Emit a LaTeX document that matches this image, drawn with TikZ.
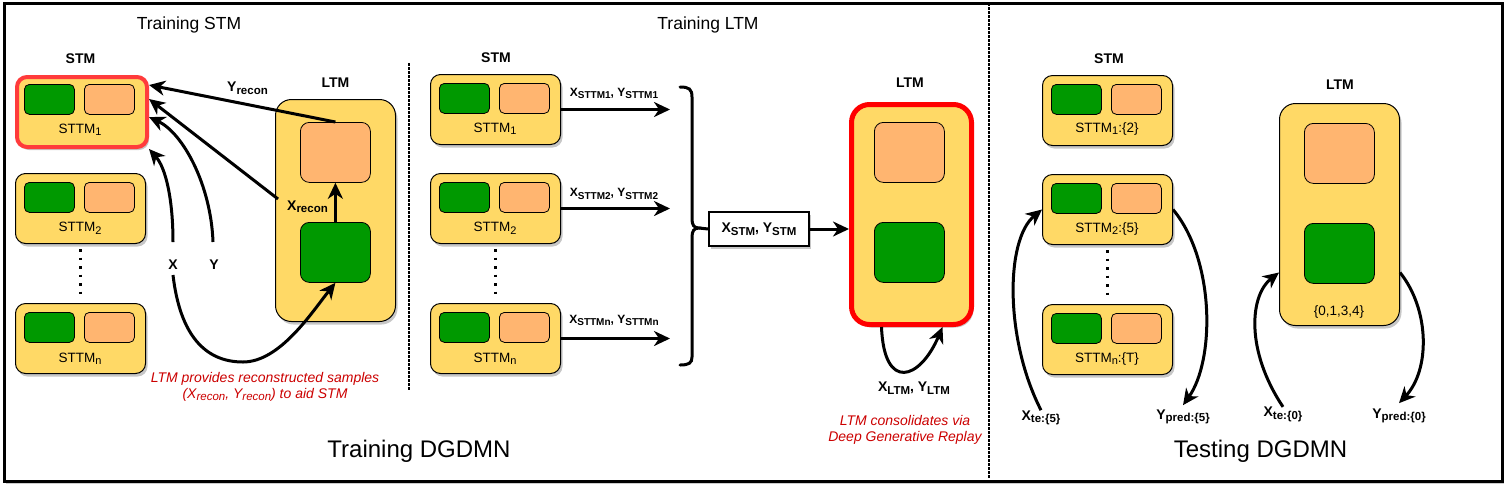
\documentclass[tikz,border=0pt]{standalone}
\usepackage{fontspec}
\setmainfont{Liberation Sans}
\usetikzlibrary{arrows.meta,shadows,calc}
\definecolor{yel}{HTML}{FFD966}
\definecolor{grn}{HTML}{009900}
\definecolor{org}{HTML}{FFB570}
\definecolor{redtxt}{HTML}{CC0000}
\definecolor{redA}{HTML}{FF3B3B}
\definecolor{redB}{HTML}{FF0000}
\newcommand{\sbs}[2][11.5]{\raisebox{-2.5pt}{\fontsize{#1pt}{#1pt}\selectfont #2}}
\begin{document}
\begin{tikzpicture}[x=1pt,y=-1pt,
 shd/.style={drop shadow={shadow xshift=2pt,shadow yshift=-3pt,opacity=0.22,fill=black}},
 sttm/.style={draw=black,line width=1pt,fill=yel,rounded corners=10pt,minimum width=130pt,minimum height=70pt,inner sep=0pt,anchor=north west,shd},
 ltmbox/.style={draw=black,line width=1pt,fill=yel,rounded corners=16pt,minimum width=120pt,minimum height=222pt,inner sep=0pt,anchor=north west,shd},
 gsm/.style={draw=black,line width=0.8pt,fill=grn,rounded corners=5pt,minimum width=50pt,minimum height=30pt,inner sep=0pt,anchor=north west},
 osm/.style={gsm,fill=org},
 gbig/.style={draw=black,line width=0.8pt,fill=grn,rounded corners=9pt,minimum width=70pt,minimum height=60pt,inner sep=0pt,anchor=north west},
 obig/.style={gbig,fill=org},
 lbl/.style={font=\fontsize{13.5pt}{16pt}\selectfont,anchor=base,inner sep=0pt},
 blbl/.style={font=\fontsize{14pt}{16pt}\selectfont\bfseries,anchor=base,inner sep=0pt},
 slbl/.style={font=\fontsize{12pt}{14pt}\selectfont\bfseries,anchor=base,inner sep=0pt},
 ttl/.style={font=\fontsize{17.5pt}{20pt}\selectfont,anchor=base,inner sep=0pt},
 bigttl/.style={font=\fontsize{24pt}{28pt}\selectfont,anchor=base,inner sep=0pt},
 rtxt/.style={font=\fontsize{14pt}{16pt}\selectfont\itshape,text=redtxt,anchor=base,inner sep=0pt},
 arr/.style={line width=3pt,-{Stealth[length=16pt,width=15pt,inset=5pt]}},
 ln/.style={line width=3pt},
 sepdots/.style={line width=2.5pt,dash pattern=on 2.5pt off 1.5pt},
 vdots/.style={line width=2.5pt,dash pattern=on 2.5pt off 6pt},
]
\useasboundingbox (0,0) rectangle (1509,491);
\node[draw=black,line width=2.5pt,minimum width=1498pt,minimum height=478pt,inner sep=0pt,anchor=north west,fill=white,drop shadow={shadow xshift=2pt,shadow yshift=-3pt,opacity=0.2,fill=black}] (frame) at (3,2) {};

% titles
\node[ttl] (t1ttl) at (189,29.3) {Training STM};
\node[ttl] (t2ttl) at (708,29.3) {Training LTM};
\node[bigttl] (t3ttl) at (419,457) {Training DGDMN};
\node[bigttl] (t4ttl) at (1260.5,457) {Testing DGDMN};

% separators
\coordinate (s1a) at (409,63); \coordinate (s1b) at (409,390);
\draw[sepdots] (s1a) -- (s1b);
\coordinate (s2a) at (989,3); \coordinate (s2b) at (989,479);
\draw[sepdots] (s2a) -- (s2b);

% ===== Training STM =====
\node[blbl] (stmA) at (80.5,63.3) {STM};
\node[sttm,draw=redA,line width=4pt] (a1) at (15,75) {};
\node[sttm] (a2) at (15,173) {};
\node[sttm] (an) at (15,303) {};
\foreach \b in {a1,a2,an}{
  \node[gsm] (\b g) at ($(\b.north west)+(9,9)$) {};
  \node[osm] (\b o) at ($(\b.north west)+(69,9)$) {};
}
\node[lbl] (a1t) at (80,133) {STTM\sbs[11]{1}};
\node[lbl] (a2t) at (80,231.5) {STTM\sbs[11]{2}};
\node[lbl] (ant) at (80,362) {STTM\sbs[11]{n}};
\draw[vdots] ([yshift=-5pt]a2.south) -- ([yshift=5pt]an.north);

\node[blbl] (ltmA) at (335.5,87.3) {LTM};
\node[ltmbox] (l1) at (275,99) {};
\node[obig] (l1o) at (300,122) {};
\node[gbig] (l1g) at (300,222) {};
\draw[arr] (l1g.north) -- (l1o.south);

\node[blbl] (yrec) at (247.5,91.7) {Y\sbs{recon}};
\node[blbl] (xrec) at (307.5,210) {X\sbs{recon}};
\node[blbl] (xlab) at (173,269) {X};
\node[blbl] (ylab) at (214,269) {Y};
\coordinate (xrs) at (278,199);
\coordinate (xa) at (173,242);
\coordinate (ya) at (213,242);
\coordinate (xb) at (173,275);

\draw[arr] (l1o.north) -- ([yshift=-10pt]a1.north east);
\draw[arr] (xrs) -- ([yshift=-24pt]a1.north east);
\draw[arr] (ya) .. controls (211,185) and (183,133) .. ([yshift=-42pt]a1.north east);
\draw[arr] (xa) .. controls (173,200) and (166,168) .. (a1.south east);
\draw[arr] (xb) .. controls (180,335) and (205,362) .. (243,362) .. controls (280,362) and (312,312) .. (l1g.south);

\node[rtxt] (r1a) at (265,382.7) {LTM provides reconstructed samples};
\node[rtxt] (r1b) at (265,398.3) {(X\sbs{recon}, Y\sbs{recon}) to aid STM};

% ===== Training LTM =====
\node[blbl] (stmB) at (496,62.3) {STM};
\node[sttm] (b1) at (430,74) {};
\node[sttm] (b2) at (430,173) {};
\node[sttm] (bn) at (430,303) {};
\foreach \b in {b1,b2,bn}{
  \node[gsm] (\b g) at ($(\b.north west)+(9,9)$) {};
  \node[osm] (\b o) at ($(\b.north west)+(69,9)$) {};
}
\node[lbl] (b1t) at (495,132) {STTM\sbs[11]{1}};
\node[lbl] (b2t) at (495,231.5) {STTM\sbs[11]{2}};
\node[lbl] (bnt) at (495,362) {STTM\sbs[11]{n}};
\draw[vdots] ([yshift=-5pt]b2.south) -- ([yshift=5pt]bn.north);

\coordinate (bx) at (670,0);
\draw[arr] (b1.east) -- (b1.east -| bx);
\draw[arr] (b2.east) -- (b2.east -| bx);
\draw[arr] (bn.east) -- (bn.east -| bx);
\node[slbl] (lb1) at (614,96) {X\sbs[10]{STTM1}, Y\sbs[10]{STTM1}};
\node[slbl] (lb2) at (614,196.7) {X\sbs[10]{STTM2}, Y\sbs[10]{STTM2}};
\node[slbl] (lbn) at (614,323.3) {X\sbs[10]{STTMn}, Y\sbs[10]{STTMn}};

\coordinate (bt) at (699,228);
\draw[ln,line cap=round] (680,87) .. controls (689,87) and (692,89) .. (692,97) -- (692,219) .. controls (692,225) and (694,228) .. (bt) .. controls (694,228) and (692,231) .. (692,237) -- (692,357) .. controls (692,363) and (689,365) .. (680,365);

\node[draw=black,line width=2pt,fill=white,minimum width=100pt,minimum height=34pt,inner sep=0pt,shd,font=\fontsize{14pt}{16pt}\selectfont\bfseries] (xstm) at (759,229) {X\sbs{STM}, Y\sbs{STM}};
\draw[ln] (bt) -- (xstm.west);

\node[blbl] (ltmB) at (910,87.3) {LTM};
\node[ltmbox,draw=redB,line width=5pt,minimum height=220pt,rounded corners=18pt] (t1) at (849,102) {};
\node[obig] (t1o) at (874,122) {};
\node[gbig] (t1g) at (874,222) {};
\draw[arr] (xstm.east) -- (xstm.east -| t1.west);
\draw[arr] ([xshift=-30pt]t1.south) .. controls (884,392) and (920,380) .. ([xshift=31pt]t1.south);
\node[blbl] (xltm) at (914,391.7) {X\sbs{LTM}, Y\sbs{LTM}};
\node[rtxt] (r2a) at (905,425) {LTM consolidates via};
\node[rtxt] (r2b) at (905,441) {Deep Generative Replay};

% ===== Testing =====
\node[blbl] (stmC) at (1109,63.3) {STM};
\node[sttm] (c1) at (1042,75) {};
\node[sttm] (c2) at (1042,174) {};
\node[sttm] (cn) at (1042,304) {};
\foreach \b in {c1,c2,cn}{
  \node[gsm] (\b g) at ($(\b.north west)+(9,9)$) {};
  \node[osm] (\b o) at ($(\b.north west)+(69,9)$) {};
}
\node[lbl] (c1t) at (1107,132) {STTM\sbs[11]{1}:\{2\}};
\node[lbl] (c2t) at (1107,232) {STTM\sbs[11]{2}:\{5\}};
\node[lbl] (cnt) at (1107,362) {STTM\sbs[11]{n}:\{T\}};
\draw[vdots] ([yshift=-5pt]c2.south) -- ([yshift=5pt]cn.north);

\node[blbl] (ltmC) at (1340,89.3) {LTM};
\node[ltmbox] (d1) at (1279,103) {};
\node[obig] (d1o) at (1304,123) {};
\node[gbig] (d1g) at (1304,223) {};
\node[lbl] (d1t) at (1339,315) {\{0,1,3,4\}};

\node[blbl] (xt5) at (1041,420) {X\sbs{te:\{5\}}};
\node[blbl] (yp5) at (1183,419) {Y\sbs{pred:\{5\}}};
\node[blbl] (xt0) at (1283,416.7) {X\sbs{te:\{0\}}};
\node[blbl] (yp0) at (1399,418) {Y\sbs{pred:\{0\}}};

\draw[arr] (xt5.north) .. controls (1005,340) and (1005,240) .. (c2.west);
\draw[arr] (c2.east) .. controls (1215,260) and (1215,360) .. ([yshift=4pt]yp5.north);
\draw[arr] (xt0.north) .. controls (1245,350) and (1250,295) .. ([yshift=-58pt]d1.west);
\draw[arr] ([yshift=-58pt]d1.east) .. controls (1430,310) and (1430,370) .. ([yshift=5pt]yp0.north);
\end{tikzpicture}
\end{document}
